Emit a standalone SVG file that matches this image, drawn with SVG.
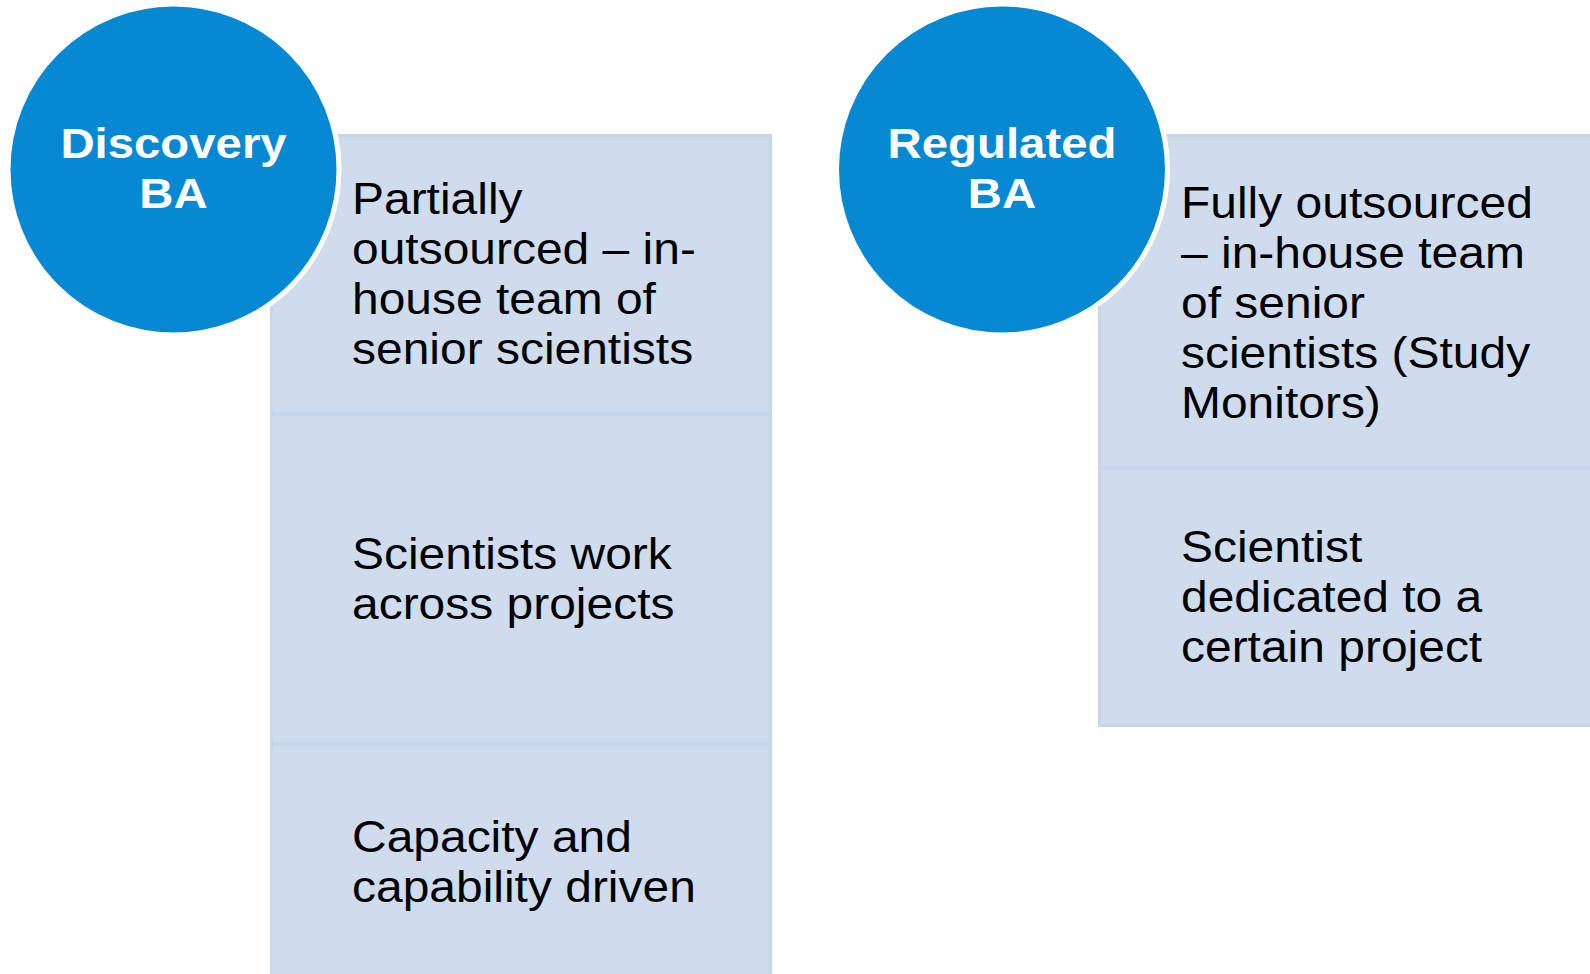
<svg xmlns="http://www.w3.org/2000/svg" width="1590" height="974" viewBox="0 0 1590 974">
<style>
.box{fill:#CFDCEE;stroke:#C8D6EB;stroke-width:3}
.circ{fill:#0689D2;stroke:#FFFFFF;stroke-width:5}
.body{font-family:"Liberation Sans",Arial,sans-serif;font-size:44px;fill:#000000}
.head{font-family:"Liberation Sans",Arial,sans-serif;font-size:42px;font-weight:bold;fill:#FFFFFF;text-anchor:middle}
</style>
<rect width="1590" height="974" fill="#FFFFFF"/>
<g id="connectors"></g>
<g id="discovery-box-1">
<rect class="box" x="271.5" y="135.5" width="499" height="278"/>
<text class="body" transform="translate(352 0) scale(1.09 1)"><tspan x="0" y="214">Partially</tspan><tspan x="0" y="264">outsourced – in-</tspan><tspan x="0" y="314">house team of</tspan><tspan x="0" y="364">senior scientists</tspan></text>
</g>
<g id="discovery-box-2">
<rect class="box" x="271.5" y="414.5" width="499" height="329"/>
<text class="body" transform="translate(352 0) scale(1.09 1)"><tspan x="0" y="569">Scientists work</tspan><tspan x="0" y="619">across projects</tspan></text>
</g>
<g id="discovery-box-3">
<rect class="box" x="271.5" y="744.5" width="499" height="250"/>
<text class="body" transform="translate(352 0) scale(1.09 1)"><tspan x="0" y="852">Capacity and</tspan><tspan x="0" y="902">capability driven</tspan></text>
</g>
<g id="regulated-box-1">
<rect class="box" x="1099.5" y="135.5" width="520" height="332"/>
<text class="body" transform="translate(1181 0) scale(1.09 1)"><tspan x="0" y="218">Fully outsourced</tspan><tspan x="0" y="268">– in-house team</tspan><tspan x="0" y="318">of senior</tspan><tspan x="0" y="368">scientists (Study</tspan><tspan x="0" y="418">Monitors)</tspan></text>
</g>
<g id="regulated-box-2">
<rect class="box" x="1099.5" y="468.5" width="520" height="257"/>
<text class="body" transform="translate(1181 0) scale(1.09 1)"><tspan x="0" y="562">Scientist</tspan><tspan x="0" y="612">dedicated to a</tspan><tspan x="0" y="662">certain project</tspan></text>
</g>
<g id="discovery-ba">
<circle class="circ" cx="173.5" cy="169.5" r="165.5"/>
<text class="head" transform="translate(173.5 0) scale(1.127 1)"><tspan x="0" y="158">Discovery</tspan><tspan x="0" y="208">BA</tspan></text>
</g>
<g id="regulated-ba">
<circle class="circ" cx="1002" cy="169.5" r="165.5"/>
<text class="head" transform="translate(1002 0) scale(1.127 1)"><tspan x="0" y="158">Regulated</tspan><tspan x="0" y="208">BA</tspan></text>
</g>
</svg>
